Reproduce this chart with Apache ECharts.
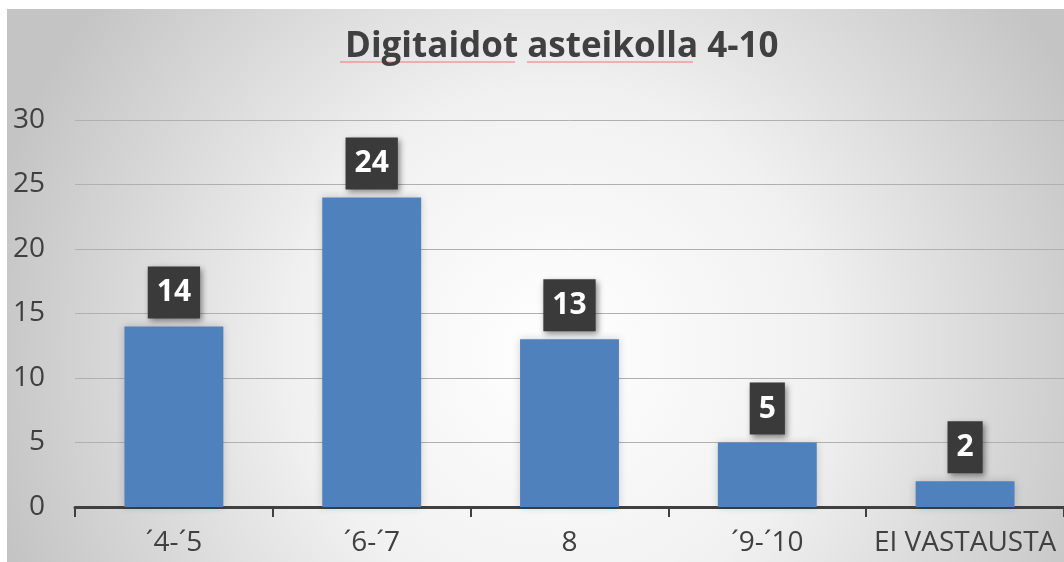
<!DOCTYPE html>
<html>
<head>
<meta charset="utf-8">
<script src="https://cdn.jsdelivr.net/npm/echarts@6/dist/echarts.min.js"></script>
<style>
  html, body { margin: 0; padding: 0; background: #fff; }
  #main { position: absolute; left: 7px; top: 9px; width: 1057px; height: 553px; }
</style>
</head>
<body>
<div id="main"></div>
<script>
  // data
  const categories = ['´4-´5', '´6-´7', '8', '´9-´10', 'EI VASTAUSTA']
  const values = [14, 24, 13, 5, 2]
  const yTicks = { min: 0, max: 30, interval: 5 }
  const titleText = 'Digitaidot asteikolla 4-10'

  const font = "'Open Sans', sans-serif"

  const chart = echarts.init(document.getElementById('main'))
  const option = {
    backgroundColor: {
      type: 'radial',
      x: 0.52,
      y: 0.62,
      r: 1.05,
      colorStops: [
        { offset: 0, color: '#ffffff' },
        { offset: 0.45, color: '#f1f1f1' },
        { offset: 1, color: '#c4c4c4' }
      ]
    },
    title: {
      text: titleText,
      left: 333,
      top: 16,
      textStyle: {
        fontFamily: font,
        fontSize: 35,
        fontWeight: 'bold',
        color: '#404040'
      }
    },
    // spell-check squiggles under the first two title words
    graphic: [
      { type: 'line', shape: { x1: 333, y1: 53, x2: 508, y2: 53 }, style: { stroke: '#ee7777', lineWidth: 1.2 } },
      { type: 'line', shape: { x1: 520, y1: 53, x2: 686, y2: 53 }, style: { stroke: '#ee7777', lineWidth: 1.2 } }
    ],
    grid: {
      left: 68,
      right: 0,
      top: 111,
      bottom: 55,
      containLabel: false
    },
    xAxis: {
      type: 'category',
      data: categories,
      axisLine: { show: true, lineStyle: { color: '#404040', width: 3 } },
      axisTick: { show: true, interval: 0, length: 10, lineStyle: { color: '#404040', width: 2 } },
      axisLabel: {
        interval: 0,
        fontFamily: font,
        fontSize: 28,
        color: '#404040',
        margin: 22
      }
    },
    yAxis: {
      type: 'value',
      min: yTicks.min,
      max: yTicks.max,
      interval: yTicks.interval,
      axisLine: { show: false },
      axisTick: { show: false },
      splitLine: { lineStyle: { color: '#b0b0b0', width: 1 } },
      axisLabel: {
        fontFamily: font,
        fontSize: 28,
        color: '#404040',
        margin: 30
      }
    },
    series: [
      {
        type: 'bar',
        data: values,
        barWidth: '50%',
        itemStyle: {
          color: '#4f81bd',
          shadowColor: 'rgba(0,0,0,0.18)',
          shadowBlur: 8
        },
        label: {
          show: true,
          position: 'top',
          distance: 8,
          fontFamily: font,
          fontSize: 30,
          fontWeight: 'bold',
          color: '#ffffff',
          backgroundColor: '#3a3a3a',
          padding: [9, 9, 8, 9],
          lineHeight: 35,
          shadowColor: 'rgba(0,0,0,0.45)',
          shadowBlur: 6,
          shadowOffsetX: 2,
          shadowOffsetY: 3
        }
      }
    ]
  }
  chart.setOption(option)
</script>
</body>
</html>
